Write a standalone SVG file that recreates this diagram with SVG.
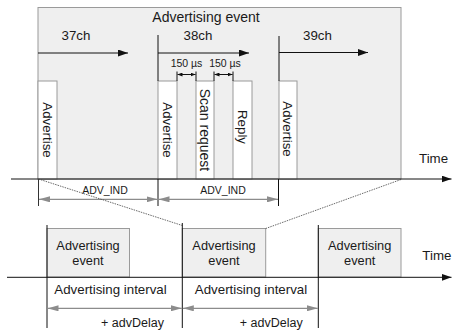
<svg xmlns="http://www.w3.org/2000/svg" width="452" height="334" viewBox="0 0 452 334">
<style>
text{font-family:"Liberation Sans",Arial,sans-serif;fill:#1a1a1a;font-size:13.3px}
.m{text-anchor:middle}
.ev{font-size:12.8px}
.box{fill:#efefef;stroke:#9a9a9a;stroke-width:1}
.wbox{fill:#ffffff;stroke:#9a9a9a;stroke-width:1}
.blk{stroke:#111;stroke-width:1;fill:none}
.dim{stroke:#8c8c8c;stroke-width:1.2;fill:none}
.dot{stroke:#444;stroke-width:0.8;stroke-dasharray:1.5 1;fill:none}
</style>
<defs>
<marker id="ab" markerUnits="userSpaceOnUse" markerWidth="10" markerHeight="7" refX="10" refY="3.5" orient="auto"><path d="M0,0 L10,3.5 L0,7 z" fill="#111"/></marker>
<marker id="ag" markerUnits="userSpaceOnUse" markerWidth="11" markerHeight="6" refX="11" refY="3" orient="auto-start-reverse"><path d="M0,0 L11,3 L0,6 z" fill="#8c8c8c"/></marker>
<marker id="as" markerUnits="userSpaceOnUse" markerWidth="5" markerHeight="4" refX="5" refY="2" orient="auto-start-reverse"><path d="M0,0 L5,2 L0,4 z" fill="#111"/></marker>
</defs>

<g id="event-detail">
<rect class="box" x="38" y="7.5" width="363" height="171.5"/>
<text x="206" y="22" class="m" style="font-size:14px">Advertising event</text>
<text x="76" y="39.5" class="m">37ch</text>
<text x="198" y="39.5" class="m">38ch</text>
<text x="317.5" y="40" class="m">39ch</text>
</g>

<g id="advertise-37">
<rect class="wbox" x="38" y="81" width="19" height="98"/>
<text class="m" transform="translate(47.5,130) rotate(90)" y="4.7">Advertise</text>
</g>
<g id="advertise-38">
<rect class="wbox" x="158" y="81" width="19" height="98"/>
<text class="m" transform="translate(167.5,130) rotate(90)" y="4.7">Advertise</text>
</g>
<g id="scan-request">
<rect class="wbox" x="196" y="81" width="18" height="98"/>
<text class="m" transform="translate(205,130) rotate(90)" y="4.9" style="font-size:14px">Scan request</text>
</g>
<g id="reply">
<rect class="wbox" x="233" y="81" width="19" height="98"/>
<text class="m" transform="translate(242.5,127) rotate(90)" y="4.7">Reply</text>
</g>
<g id="advertise-39">
<rect class="wbox" x="279" y="81" width="18" height="98"/>
<text class="m" transform="translate(288,129) rotate(90)" y="4.7">Advertise</text>
</g>

<g id="timing-labels">
<text x="186.5" y="66.5" class="m" style="font-size:10.5px">150 µs</text>
<text x="225" y="66.5" class="m" style="font-size:10.5px">150 µs</text>
<text x="419" y="163">Time</text>
<text x="105" y="193.5" class="m" style="font-size:10.5px">ADV_IND</text>
<text x="223" y="193.5" class="m" style="font-size:10.5px">ADV_IND</text>
</g>

<g id="event-1">
<rect class="box" x="47" y="228.5" width="82.5" height="48.5"/>
<text x="88" y="250" class="m ev">Advertising</text>
<text x="88" y="264.8" class="m ev">event</text>
</g>
<g id="event-2">
<rect class="box" x="182.3" y="228.5" width="83.4" height="48.5"/>
<text x="224" y="250" class="m ev">Advertising</text>
<text x="224" y="264.8" class="m ev">event</text>
</g>
<g id="event-3">
<rect class="box" x="318.3" y="228.5" width="82.7" height="48.5"/>
<text x="359.7" y="250" class="m ev">Advertising</text>
<text x="359.7" y="264.8" class="m ev">event</text>
</g>
<g id="interval-labels">
<text x="110.5" y="294.3" class="m">Advertising interval</text>
<text x="251" y="294.3" class="m">Advertising interval</text>
<text x="132.5" y="326.7" class="m" style="font-size:12.5px">+ advDelay</text>
<text x="271.3" y="326.7" class="m" style="font-size:12.5px">+ advDelay</text>
<text x="422.3" y="260">Time</text>
</g>

<g id="connectors">
<line class="blk" x1="11" y1="179" x2="451.5" y2="179" marker-end="url(#ab)"/>
<line class="blk" x1="7" y1="277.3" x2="451.5" y2="277.3" marker-end="url(#ab)"/>
<line class="blk" x1="38" y1="53" x2="128" y2="53" marker-end="url(#ab)"/>
<line class="blk" x1="158" y1="35" x2="158" y2="81"/>
<line class="blk" x1="158" y1="53" x2="249" y2="53" marker-end="url(#ab)"/>
<line class="blk" x1="279" y1="36" x2="279" y2="81"/>
<line class="blk" x1="279" y1="52.5" x2="368" y2="52.5" marker-end="url(#ab)"/>
<line class="blk" x1="177" y1="71.5" x2="177" y2="81"/>
<line class="blk" x1="196" y1="71.5" x2="196" y2="81"/>
<line class="blk" x1="214" y1="71.5" x2="214" y2="81"/>
<line class="blk" x1="233" y1="71.5" x2="233" y2="81"/>
<line class="blk" x1="177.5" y1="74.5" x2="195.5" y2="74.5" marker-start="url(#as)" marker-end="url(#as)" stroke-width="0.8"/>
<line class="blk" x1="214.5" y1="74.5" x2="232.5" y2="74.5" marker-start="url(#as)" marker-end="url(#as)" stroke-width="0.8"/>
<line x1="38.5" y1="179" x2="38.5" y2="206" stroke="#333" stroke-width="1"/>
<line class="blk" x1="158" y1="179" x2="158" y2="206"/>
<line class="blk" x1="278.5" y1="179" x2="278.5" y2="206"/>
<line class="dim" x1="39" y1="199.3" x2="157.5" y2="199.3" marker-start="url(#ag)" marker-end="url(#ag)"/>
<line class="dim" x1="158.5" y1="199.3" x2="278" y2="199.3" marker-start="url(#ag)" marker-end="url(#ag)"/>
<line class="dot" x1="38.5" y1="179" x2="182.3" y2="225.5"/>
<line class="dot" x1="401" y1="179.5" x2="265.7" y2="228.5"/>
<line class="blk" x1="47" y1="225" x2="47" y2="328"/>
<line class="blk" x1="182.3" y1="223" x2="182.3" y2="328"/>
<line class="blk" x1="318.3" y1="225" x2="318.3" y2="328"/>
<line class="dim" x1="47.5" y1="308.3" x2="181.8" y2="308.3" marker-start="url(#ag)" marker-end="url(#ag)"/>
<line class="dim" x1="182.8" y1="308.3" x2="317.8" y2="308.3" marker-start="url(#ag)" marker-end="url(#ag)"/>
</g>
</svg>
